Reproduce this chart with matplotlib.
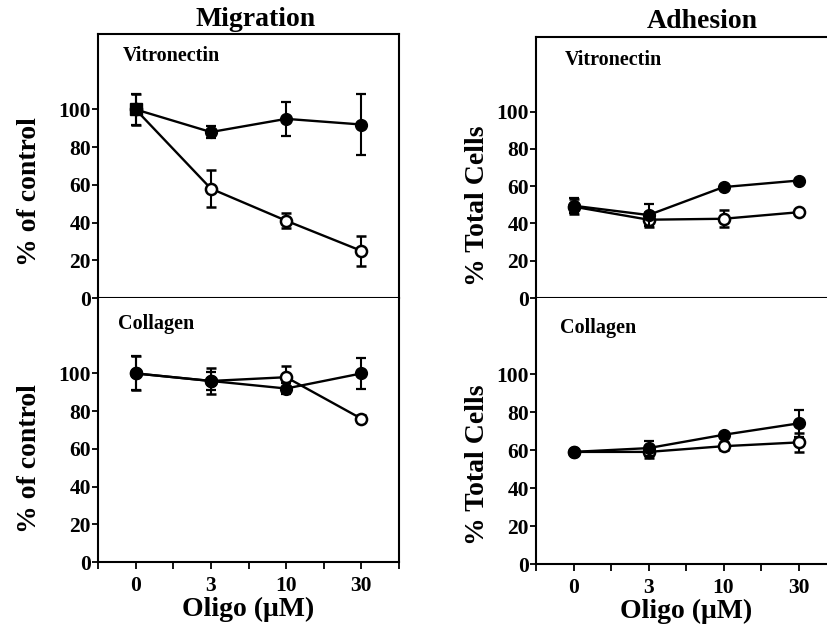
import matplotlib
matplotlib.use("Agg")
import matplotlib.pyplot as plt
from matplotlib.ticker import FixedLocator

plt.rcParams['font.family'] = ['Liberation Serif', 'DejaVu Serif']
plt.rcParams['font.weight'] = 'bold'

doses = ["0", "3", "10", "30"]

# Migration - Vitronectin (% of control)
mig_vn_filled = [100, 88, 95, 92]
mig_vn_filled_err = [8, 3, 9, 16]
mig_vn_open = [100, 58, 41, 25]
mig_vn_open_err = [8, 10, 4, 8]

# Migration - Collagen
mig_col_filled = [100, 96, 92, 100]
mig_col_filled_err = [9, 5, 3, 8]
mig_col_open = [100, 96, 98, 76]
mig_col_open_err = [9, 7, 6, 2]

# Adhesion - Vitronectin (% Total Cells)
adh_vn_filled = [49.5, 44.5, 59.5, 63]
adh_vn_filled_err = [4, 6, 1, 1]
adh_vn_open = [49, 42, 42.5, 46]
adh_vn_open_err = [4, 4, 4.5, 1]

# Adhesion - Collagen
adh_col_filled = [59, 61, 68, 74]
adh_col_filled_err = [1, 4, 1, 7]
adh_col_open = [59, 59, 62, 64]
adh_col_open_err = [1, 3, 2, 5]

W, H = 8.27, 6.32
fig = plt.figure(figsize=(W, H), dpi=100)

def frac(x0, y0, x1, y1):
    return [x0 / 827, 1 - y1 / 632, (x1 - x0) / 827, (y1 - y0) / 632]

ax_mv = fig.add_axes(frac(98, 34, 399, 298))
ax_mc = fig.add_axes(frac(98, 298, 399, 562))
ax_av = fig.add_axes(frac(536, 37, 836, 298))
ax_ac = fig.add_axes(frac(536, 298, 836, 564))

xs = list(range(len(doses)))

def draw(ax, filled, ferr, opn, oerr, square_first=False):
    ax.errorbar(xs, opn, yerr=oerr, color='black', lw=1.7, capsize=3.5,
                capthick=1.6, elinewidth=1.5, marker='o', ms=8,
                mfc='white', mec='black', mew=1.8, zorder=3)
    if square_first:
        ax.errorbar(xs[1:], filled[1:], yerr=ferr[1:], color='black', lw=1.7,
                    capsize=3.5, capthick=1.6, elinewidth=1.5, ls='none',
                    marker='o', ms=8.5, mfc='black', mec='black', zorder=4)
        ax.plot(xs, filled, color='black', lw=1.7, zorder=4)
        ax.errorbar(xs[:1], filled[:1], yerr=ferr[:1], color='black',
                    capsize=3.5, capthick=1.6, elinewidth=1.5, ls='none',
                    marker='s', ms=8.5, mfc='black', mec='black', zorder=5)
    else:
        ax.errorbar(xs, filled, yerr=ferr, color='black', lw=1.7, capsize=3.5,
                    capthick=1.6, elinewidth=1.5, marker='o', ms=8.5,
                    mfc='black', mec='black', zorder=4)

draw(ax_mv, mig_vn_filled, mig_vn_filled_err, mig_vn_open, mig_vn_open_err, True)
draw(ax_mc, mig_col_filled, mig_col_filled_err, mig_col_open, mig_col_open_err)
draw(ax_av, adh_vn_filled, adh_vn_filled_err, adh_vn_open, adh_vn_open_err)
draw(ax_ac, adh_col_filled, adh_col_filled_err, adh_col_open, adh_col_open_err)

for ax in (ax_mv, ax_mc, ax_av, ax_ac):
    ax.set_xlim(-0.5, 3.5)
    ax.set_ylim(0, 140)
    ax.yaxis.set_major_locator(FixedLocator([0, 20, 40, 60, 80, 100]))
    ax.xaxis.set_major_locator(FixedLocator(xs))
    ax.xaxis.set_minor_locator(FixedLocator([-0.5, 0.5, 1.5, 2.5, 3.5]))
    ax.tick_params(axis='y', direction='out', length=4, width=1.3, pad=1,
                   labelsize=15.5)
    ax.tick_params(axis='x', which='both', direction='out', length=5,
                   width=1.3, pad=5, labelsize=15.5)
    for lab in ax.get_yticklabels() + ax.get_xticklabels():
        lab.set_fontweight('bold')
    for s in ax.spines.values():
        s.set_linewidth(1.5)

for ax in (ax_mv, ax_av):
    ax.set_xticklabels([])
for ax in (ax_mc, ax_ac):
    ax.spines['top'].set_visible(False)
    ax.set_xticklabels(doses, fontweight='bold', fontsize=15.5)
    ax.set_xlabel("Oligo (\u03bcM)", fontsize=20, fontweight='bold', labelpad=1)

ax_mv.set_ylabel("% of control", fontsize=20, fontweight='bold')
ax_mc.set_ylabel("% of control", fontsize=20, fontweight='bold')
ax_av.set_ylabel("% Total Cells", fontsize=20, fontweight='bold')
ax_ac.set_ylabel("% Total Cells", fontsize=20, fontweight='bold')
ax_mv.yaxis.set_label_coords(-0.185, 0.405)
ax_mc.yaxis.set_label_coords(-0.185, 0.39)
ax_av.yaxis.set_label_coords(-0.155, 0.352)
ax_ac.yaxis.set_label_coords(-0.155, 0.372)

ax_mv.text(0.083, 0.915, "Vitronectin", transform=ax_mv.transAxes,
           fontsize=14.5, fontweight='bold', va='center')
ax_av.text(0.097, 0.912, "Vitronectin", transform=ax_av.transAxes,
           fontsize=14.5, fontweight='bold', va='center')
ax_mc.text(0.066, 0.90, "Collagen", transform=ax_mc.transAxes,
           fontsize=14.5, fontweight='bold', va='center')
ax_ac.text(0.08, 0.887, "Collagen", transform=ax_ac.transAxes,
           fontsize=14.5, fontweight='bold', va='center')

fig.text(256 / 827, 1 - 19 / 632, "Migration", fontsize=20, fontweight='bold',
         ha='center', va='center')
fig.text(702 / 827, 1 - 21 / 632, "Adhesion", fontsize=20, fontweight='bold',
         ha='center', va='center')

fig.savefig("out.png", dpi=100)
